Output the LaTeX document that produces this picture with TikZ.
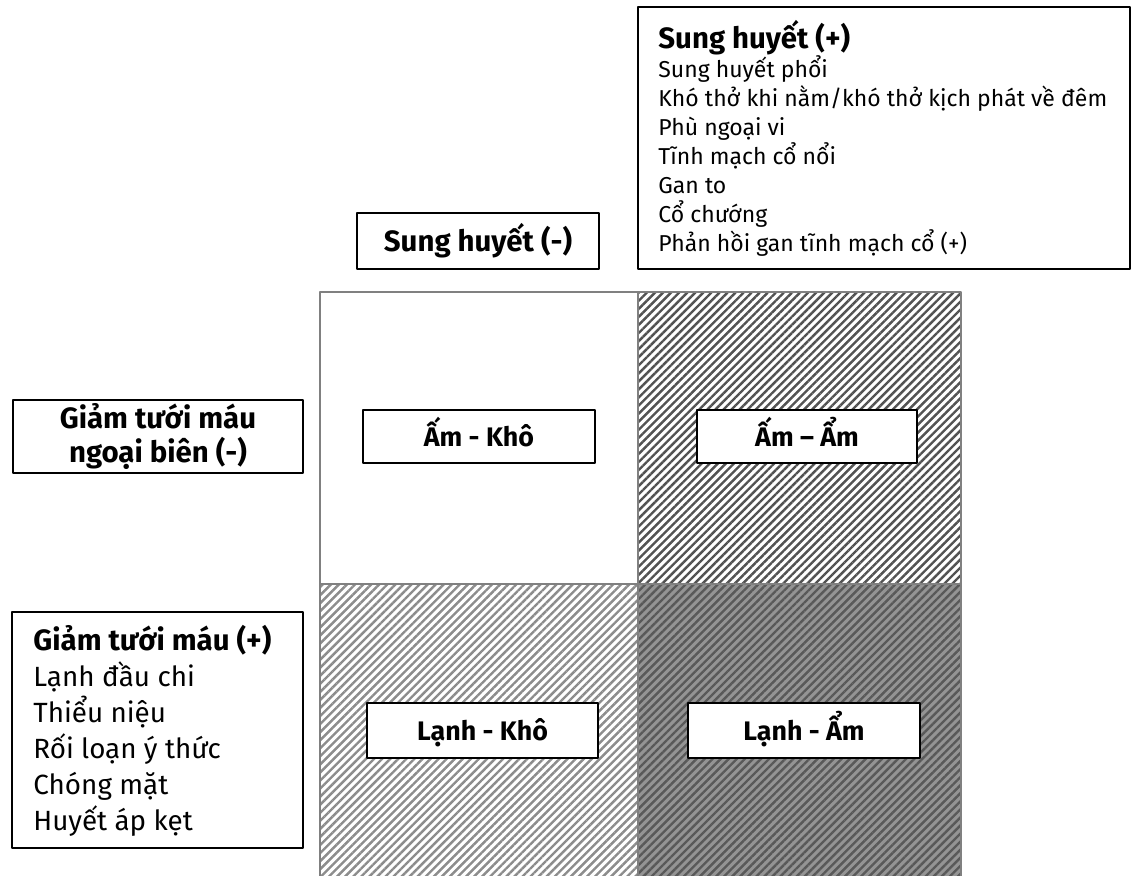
\documentclass[tikz,border=0pt]{standalone}
\usepackage{fontspec}
\setmainfont{Fira Sans}
\usetikzlibrary{patterns.meta}

\tikzset{
  box/.style={draw=black, line width=0.8pt, fill=white, inner sep=0pt},
  hatch/.style={pattern={Lines[angle=45,distance=2.85pt,line width=1.2pt]}, pattern color=#1},
  quad/.style={box, text height=12pt, text depth=2.5pt, font=\fontsize{13.4}{15}\selectfont\bfseries},
}

\begin{document}
\begin{tikzpicture}[x=0.5pt, y=-0.5pt, line join=round]
  \def\xl{320} \def\xm{638} \def\xr{961}
  \def\yt{292} \def\ym{584} \def\yb{885}
  \clip (0,0) rectangle (1133,875);
  \fill[white] (0,0) rectangle (1133,875);
  \path[hatch=black!68] (\xm,\yt) rectangle (\xr,\ym);
  \path[hatch=black!45] (\xl,\ym) rectangle (\xm,\yb);
  \fill[black!42] (\xm,\ym) rectangle (\xr,\yb);
  \path[hatch=black!65] (\xm,\ym) rectangle (\xr,\yb);
  \draw[black!50, line width=1pt] (\xl,\yt) rectangle (\xr,\yb)
    (\xm,\yt) -- (\xm,\yb)
    (\xl,\ym) -- (\xr,\ym);

  \node[box, minimum width=246pt, minimum height=131pt] (shp) at (884,138) {};
  \node[anchor=base west, align=left, inner sep=0pt,
    font=\fontsize{11.5}{14.5}\selectfont] (shptext) at (658,251)
    {{\fontsize{14.7}{15}\selectfont\bfseries Sung huyết (+)}\\
     Sung huyết phổi\\
     Khó thở khi nằm/khó thở kịch phát về đêm\\
     Phù ngoại vi\\
     Tĩnh mạch cổ nổi\\
     Gan to\\
     Cổ chướng\\
     Phản hồi gan tĩnh mạch cổ (+)};

  \node[box, minimum width=121pt, minimum height=28pt,
    font=\fontsize{14.7}{17}\selectfont\bfseries] (shm) at (478,241) {Sung huyết (-)};

  \node[box, minimum width=145pt, minimum height=36.5pt, align=center,
    font=\fontsize{14.7}{17}\selectfont\bfseries] (gtm) at (158,436.5)
    {Giảm tưới máu\\ ngoại biên (-)};

  \node[box, minimum width=145.5pt, minimum height=118pt] (gtp) at (157.5,730) {};
  \node[anchor=base west, align=left, inner sep=0pt,
    font=\fontsize{13.9}{18}\selectfont] (gtptext) at (33,830)
    {{\fontsize{14.7}{18}\selectfont\bfseries Giảm tưới máu (+)}\\
     Lạnh đầu chi\\
     Thiểu niệu\\
     Rối loạn ý thức\\
     Chóng mặt\\
     Huyết áp kẹt};

  \node[quad, minimum width=116pt, minimum height=26.5pt] (amkho) at (479,436.5) {Ấm - Khô};
  \node[quad, minimum width=110pt, minimum height=26.5pt] (amam) at (807,436.5) {Ấm – Ẩm};
  \node[quad, minimum width=115.5pt, minimum height=27.5pt] (lanhkho) at (482.5,730.5) {Lạnh - Khô};
  \node[quad, minimum width=116pt, minimum height=27.5pt] (lanham) at (804,730.5) {Lạnh - Ẩm};
\end{tikzpicture}
\end{document}
